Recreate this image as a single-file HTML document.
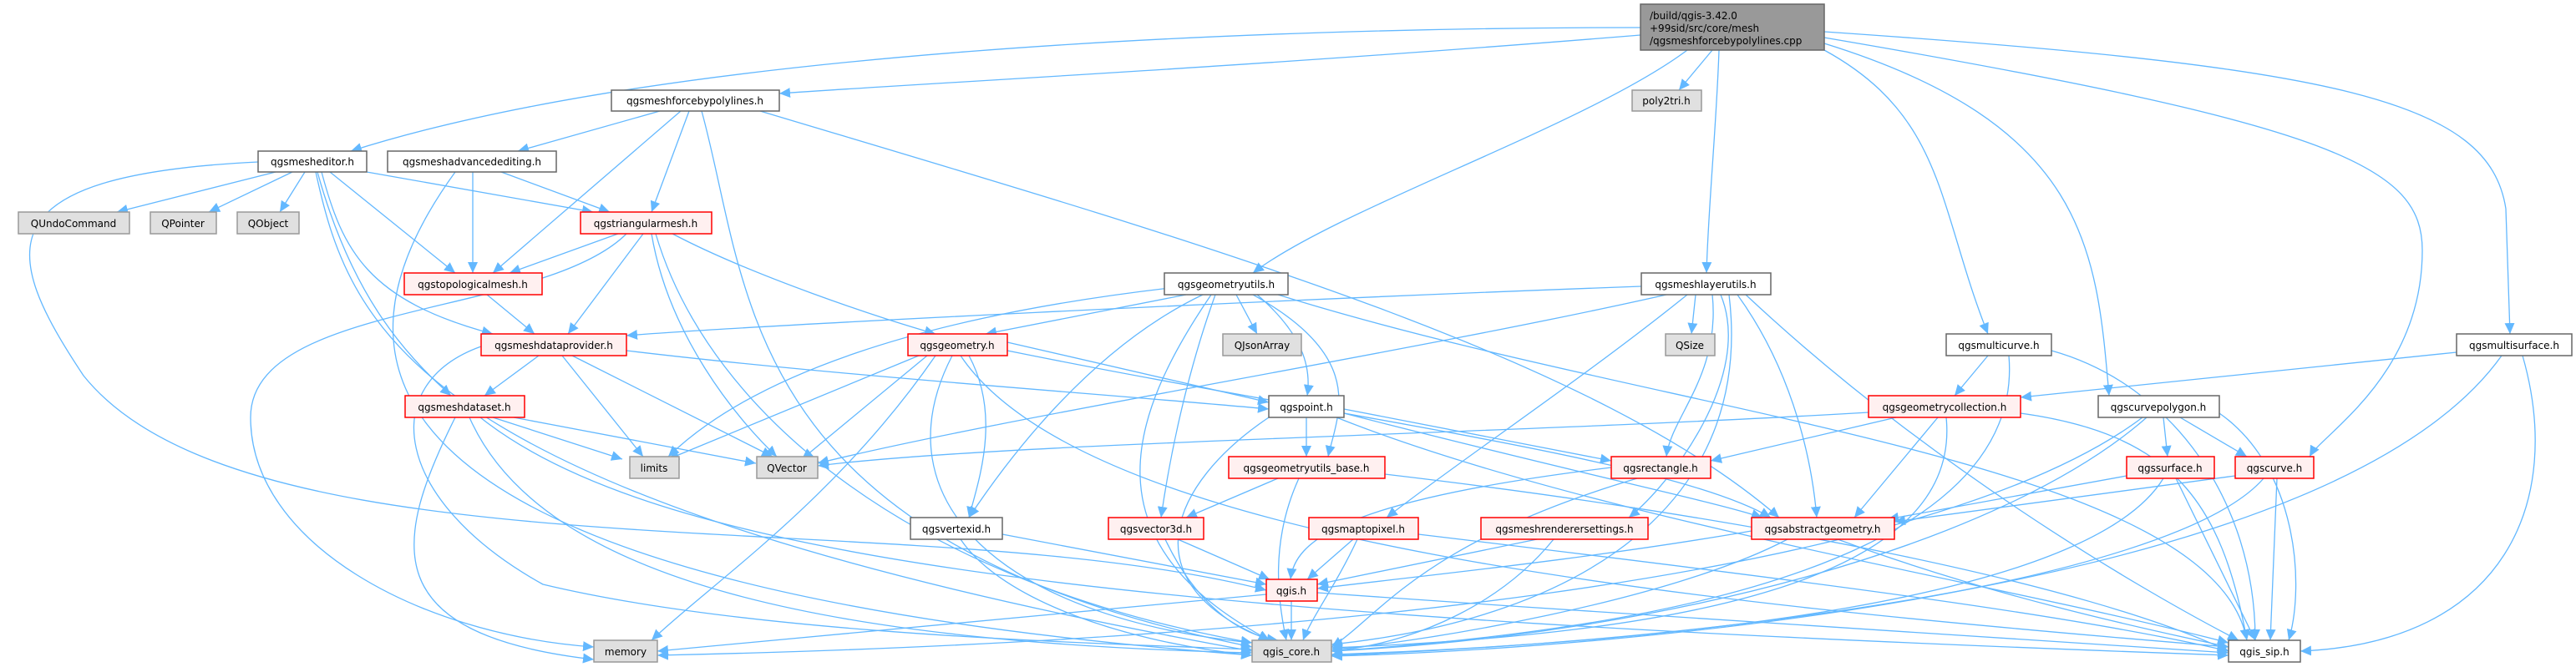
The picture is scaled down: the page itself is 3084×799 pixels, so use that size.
<!DOCTYPE html>
<html><head><meta charset="utf-8"><style>
html,body{margin:0;padding:0;background:#fff;}
svg{display:block;}
text{font-family:"DejaVu Sans","Liberation Sans",sans-serif;font-size:12px;fill:#000;}
.e{fill:none;stroke:#63b8ff;stroke-width:1.3;marker-end:url(#a);}
.w{fill:#fff;stroke:#666;stroke-width:1.5;}
.r{fill:#fff0f0;stroke:#f00;stroke-width:1.5;}
.g{fill:#e0e0e0;stroke:#999;stroke-width:1.5;}
.k{fill:#999;stroke:#666;stroke-width:1.5;}
</style></head><body>
<svg width="3084" height="799" viewBox="0 0 3084 799" xmlns="http://www.w3.org/2000/svg">
<defs><marker id="a" markerUnits="userSpaceOnUse" markerWidth="14" markerHeight="12" refX="13" refY="6" orient="auto"><path d="M0,0 L13,6 L0,12 z" fill="#63b8ff"/></marker></defs>
<g>
<path class="e" d="M1964,33 C1500,33 800,60 420,181"/>
<path class="e" d="M1964,42 C1500,80 1100,100 933,112"/>
<path class="e" d="M2050,60 L2010,108"/>
<path class="e" d="M2020,60 C1900,150 1600,250 1500,327"/>
<path class="e" d="M2058,60 C2055,150 2045,250 2043,327"/>
<path class="e" d="M2184,60 C2330,140 2320,250 2380,400"/>
<path class="e" d="M2184,52 C2500,150 2510,300 2525,474"/>
<path class="e" d="M2184,45 C2800,150 2900,200 2900,300 C2900,450 2780,520 2765,547"/>
<path class="e" d="M2184,38 C2800,80 2980,120 3000,250 L3005,400"/>
<path class="e" d="M790,133 L620,181"/>
<path class="e" d="M815,133 L590,327"/>
<path class="e" d="M825,133 L780,254"/>
<path class="e" d="M840,133 C900,350 880,650 1499,775"/>
<path class="e" d="M910,133 C1400,280 1900,420 2130,620"/>
<path class="e" d="M330,206 L140,254"/>
<path class="e" d="M350,206 L250,254"/>
<path class="e" d="M365,206 L335,254"/>
<path class="e" d="M439,206 L710,254"/>
<path class="e" d="M395,206 L545,327"/>
<path class="e" d="M385,206 C410,300 440,360 590,400"/>
<path class="e" d="M380,206 C420,350 480,420 540,474"/>
<path class="e" d="M309,194 C-20,210 0,300 100,450 C300,700 1100,600 1516,707"/>
<path class="e" d="M378,206 C420,400 500,600 1499,780"/>
<path class="e" d="M600,206 L730,254"/>
<path class="e" d="M566,206 L566,327"/>
<path class="e" d="M545,206 C390,420 380,700 1499,785"/>
<path class="e" d="M740,280 L610,327"/>
<path class="e" d="M770,280 L680,400"/>
<path class="e" d="M805,280 C900,330 1050,380 1120,400"/>
<path class="e" d="M780,280 C800,400 880,500 930,547"/>
<path class="e" d="M750,280 C650,380 300,360 300,500 C300,650 500,760 711,775"/>
<path class="e" d="M785,280 C850,500 1100,700 1499,770"/>
<path class="e" d="M583,353 L640,400"/>
<path class="e" d="M645,426 L580,474"/>
<path class="e" d="M673,426 L770,547"/>
<path class="e" d="M685,426 L925,547"/>
<path class="e" d="M750,420 C1000,450 1300,470 1519,490"/>
<path class="e" d="M576,415 C450,460 470,600 650,700 C900,760 1300,770 1499,778"/>
<path class="e" d="M590,500 L745,550"/>
<path class="e" d="M615,500 L905,555"/>
<path class="e" d="M545,500 C470,650 450,760 711,790"/>
<path class="e" d="M562,500 C650,700 1000,770 1499,782"/>
<path class="e" d="M575,500 C800,680 1400,740 2668,785"/>
<path class="e" d="M1420,353 L1180,400"/>
<path class="e" d="M1480,353 L1505,400"/>
<path class="e" d="M1505,353 C1560,400 1570,440 1565,474"/>
<path class="e" d="M1500,353 C1640,430 1600,500 1590,547"/>
<path class="e" d="M1440,353 C1300,420 1200,560 1160,620"/>
<path class="e" d="M1455,353 C1420,450 1400,550 1390,620"/>
<path class="e" d="M1400,345 C1100,380 900,450 800,547"/>
<path class="e" d="M1450,353 C1350,500 1300,650 1520,767"/>
<path class="e" d="M1530,353 C2000,500 2650,550 2690,767"/>
<path class="e" d="M1206,410 L1519,482"/>
<path class="e" d="M1100,426 L800,550"/>
<path class="e" d="M1110,426 L960,550"/>
<path class="e" d="M1120,426 C1000,600 850,700 780,767"/>
<path class="e" d="M1160,426 C1200,500 1170,580 1160,620"/>
<path class="e" d="M1206,420 C1600,500 2000,550 2120,620"/>
<path class="e" d="M1140,426 C1050,600 1200,740 1499,770"/>
<path class="e" d="M1150,426 C1300,650 2000,720 2668,775"/>
<path class="e" d="M1564,500 L1564,547"/>
<path class="e" d="M1609,490 L1929,552"/>
<path class="e" d="M1609,495 C1900,570 2050,600 2110,620"/>
<path class="e" d="M1519,500 C1400,580 1350,700 1520,767"/>
<path class="e" d="M1600,500 C1900,620 2400,700 2668,770"/>
<path class="e" d="M1530,573 L1420,620"/>
<path class="e" d="M1555,573 C1520,650 1530,720 1540,767"/>
<path class="e" d="M1658,568 C2100,620 2500,700 2668,780"/>
<path class="e" d="M1200,640 L1516,700"/>
<path class="e" d="M1150,646 C1200,720 1350,770 1499,785"/>
<path class="e" d="M1410,646 L1520,694"/>
<path class="e" d="M1395,646 C1430,720 1480,760 1530,767"/>
<path class="e" d="M1620,646 L1565,694"/>
<path class="e" d="M1625,646 C1600,700 1570,740 1560,767"/>
<path class="e" d="M1698,640 C2200,700 2500,740 2668,780"/>
<path class="e" d="M1840,646 L1577,700"/>
<path class="e" d="M1860,646 C1800,720 1700,770 1594,780"/>
<path class="e" d="M1929,560 C1600,600 1550,650 1545,694"/>
<path class="e" d="M1960,573 C1700,650 1650,740 1594,775"/>
<path class="e" d="M1965,343 C1500,360 900,390 750,402"/>
<path class="e" d="M1995,353 C1700,420 1200,500 979,555"/>
<path class="e" d="M2030,353 L2025,400"/>
<path class="e" d="M2050,353 C2060,450 2000,500 1995,547"/>
<path class="e" d="M2020,353 C1900,450 1750,550 1660,620"/>
<path class="e" d="M2060,353 C2100,450 2000,580 1950,620"/>
<path class="e" d="M2070,353 C2100,600 1900,740 1594,772"/>
<path class="e" d="M2090,353 C2300,550 2550,700 2680,767"/>
<path class="e" d="M2080,353 C2150,450 2170,560 2175,620"/>
<path class="e" d="M2380,426 L2340,474"/>
<path class="e" d="M2405,426 C2420,600 2200,740 1594,780"/>
<path class="e" d="M2456,420 C2600,460 2700,600 2700,767"/>
<path class="e" d="M2941,422 L2419,476"/>
<path class="e" d="M2995,426 C2800,700 2000,770 1594,785"/>
<path class="e" d="M3020,426 C3070,600 3000,770 2754,780"/>
<path class="e" d="M2237,494 C1800,520 1200,530 979,558"/>
<path class="e" d="M2270,500 L2048,552"/>
<path class="e" d="M2320,500 L2220,620"/>
<path class="e" d="M2330,500 C2350,700 2000,760 1594,776"/>
<path class="e" d="M2419,495 C2600,520 2660,600 2690,767"/>
<path class="e" d="M2590,500 L2595,547"/>
<path class="e" d="M2610,500 L2690,547"/>
<path class="e" d="M2570,500 C2400,650 2000,760 1594,780"/>
<path class="e" d="M2657,495 C2750,560 2760,700 2740,767"/>
<path class="e" d="M2565,500 C2300,700 1500,770 787,785"/>
<path class="e" d="M2546,570 L2260,622"/>
<path class="e" d="M2590,573 C2500,720 2000,770 1594,784"/>
<path class="e" d="M2605,573 L2700,767"/>
<path class="e" d="M2676,570 L2268,625"/>
<path class="e" d="M2710,573 C2600,700 2000,775 1594,786"/>
<path class="e" d="M2726,573 L2718,767"/>
<path class="e" d="M2140,646 C2000,720 1700,770 1594,778"/>
<path class="e" d="M2097,636 C1900,670 1700,690 1577,705"/>
<path class="e" d="M2200,646 C2400,720 2600,760 2668,775"/>
<path class="e" d="M1516,712 C1200,740 900,770 787,780"/>
<path class="e" d="M1546,720 L1546,767"/>
<path class="e" d="M1577,710 C2000,740 2500,770 2668,782"/>
</g>
<g text-anchor="middle">
<rect class="k" x="1964" y="5" width="220" height="55"/>
<text x="1975" y="23" text-anchor="start">/build/qgis-3.42.0</text>
<text x="1975" y="38" text-anchor="start">+99sid/src/core/mesh</text>
<text x="1975" y="53" text-anchor="start">/qgsmeshforcebypolylines.cpp</text>

<rect class="w" x="732" y="108" width="201" height="25"/><text x="832" y="125">qgsmeshforcebypolylines.h</text>
<rect class="g" x="1954" y="108" width="83" height="25"/><text x="1995" y="125">poly2tri.h</text>
<rect class="w" x="309" y="181" width="130" height="25"/><text x="374" y="198">qgsmesheditor.h</text>
<rect class="w" x="464" y="181" width="202" height="25"/><text x="565" y="198">qgsmeshadvancedediting.h</text>
<rect class="g" x="22" y="254" width="133" height="26"/><text x="88" y="272">QUndoCommand</text>
<rect class="g" x="180" y="254" width="79" height="26"/><text x="219" y="272">QPointer</text>
<rect class="g" x="284" y="254" width="74" height="26"/><text x="321" y="272">QObject</text>
<rect class="r" x="695" y="254" width="157" height="26"/><text x="773" y="272">qgstriangularmesh.h</text>
<rect class="r" x="484" y="327" width="165" height="26"/><text x="566" y="345">qgstopologicalmesh.h</text>
<rect class="w" x="1394" y="327" width="148" height="26"/><text x="1468" y="345">qgsgeometryutils.h</text>
<rect class="w" x="1965" y="327" width="155" height="26"/><text x="2042" y="345">qgsmeshlayerutils.h</text>
<rect class="r" x="576" y="400" width="174" height="26"/><text x="663" y="418">qgsmeshdataprovider.h</text>
<rect class="r" x="1087" y="400" width="119" height="26"/><text x="1146" y="418">qgsgeometry.h</text>
<rect class="g" x="1464" y="400" width="94" height="26"/><text x="1511" y="418">QJsonArray</text>
<rect class="g" x="1994" y="400" width="59" height="26"/><text x="2023" y="418">QSize</text>
<rect class="w" x="2330" y="400" width="126" height="26"/><text x="2393" y="418">qgsmulticurve.h</text>
<rect class="w" x="2941" y="400" width="138" height="26"/><text x="3010" y="418">qgsmultisurface.h</text>
<rect class="r" x="485" y="474" width="143" height="26"/><text x="556" y="492">qgsmeshdataset.h</text>
<rect class="w" x="1519" y="474" width="90" height="26"/><text x="1564" y="492">qgspoint.h</text>
<rect class="r" x="2237" y="474" width="182" height="26"/><text x="2328" y="492">qgsgeometrycollection.h</text>
<rect class="w" x="2512" y="474" width="145" height="26"/><text x="2584" y="492">qgscurvepolygon.h</text>
<rect class="g" x="754" y="547" width="59" height="26"/><text x="783" y="565">limits</text>
<rect class="g" x="906" y="547" width="73" height="26"/><text x="942" y="565">QVector</text>
<rect class="r" x="1471" y="547" width="187" height="26"/><text x="1564" y="565">qgsgeometryutils_base.h</text>
<rect class="r" x="1929" y="547" width="119" height="26"/><text x="1988" y="565">qgsrectangle.h</text>
<rect class="r" x="2546" y="547" width="105" height="26"/><text x="2598" y="565">qgssurface.h</text>
<rect class="r" x="2676" y="547" width="94" height="26"/><text x="2723" y="565">qgscurve.h</text>
<rect class="w" x="1090" y="620" width="110" height="26"/><text x="1145" y="638">qgsvertexid.h</text>
<rect class="r" x="1327" y="620" width="114" height="26"/><text x="1384" y="638">qgsvector3d.h</text>
<rect class="r" x="1567" y="620" width="131" height="26"/><text x="1632" y="638">qgsmaptopixel.h</text>
<rect class="r" x="1773" y="620" width="200" height="26"/><text x="1873" y="638">qgsmeshrenderersettings.h</text>
<rect class="r" x="2097" y="620" width="171" height="26"/><text x="2182" y="638">qgsabstractgeometry.h</text>
<rect class="r" x="1516" y="694" width="61" height="26"/><text x="1546" y="712">qgis.h</text>
<rect class="g" x="711" y="767" width="76" height="26"/><text x="749" y="785">memory</text>
<rect class="g" x="1499" y="767" width="95" height="26"/><text x="1546" y="785">qgis_core.h</text>
<rect class="w" x="2668" y="767" width="86" height="26"/><text x="2711" y="785">qgis_sip.h</text>
</g>
</svg>
</body></html>
